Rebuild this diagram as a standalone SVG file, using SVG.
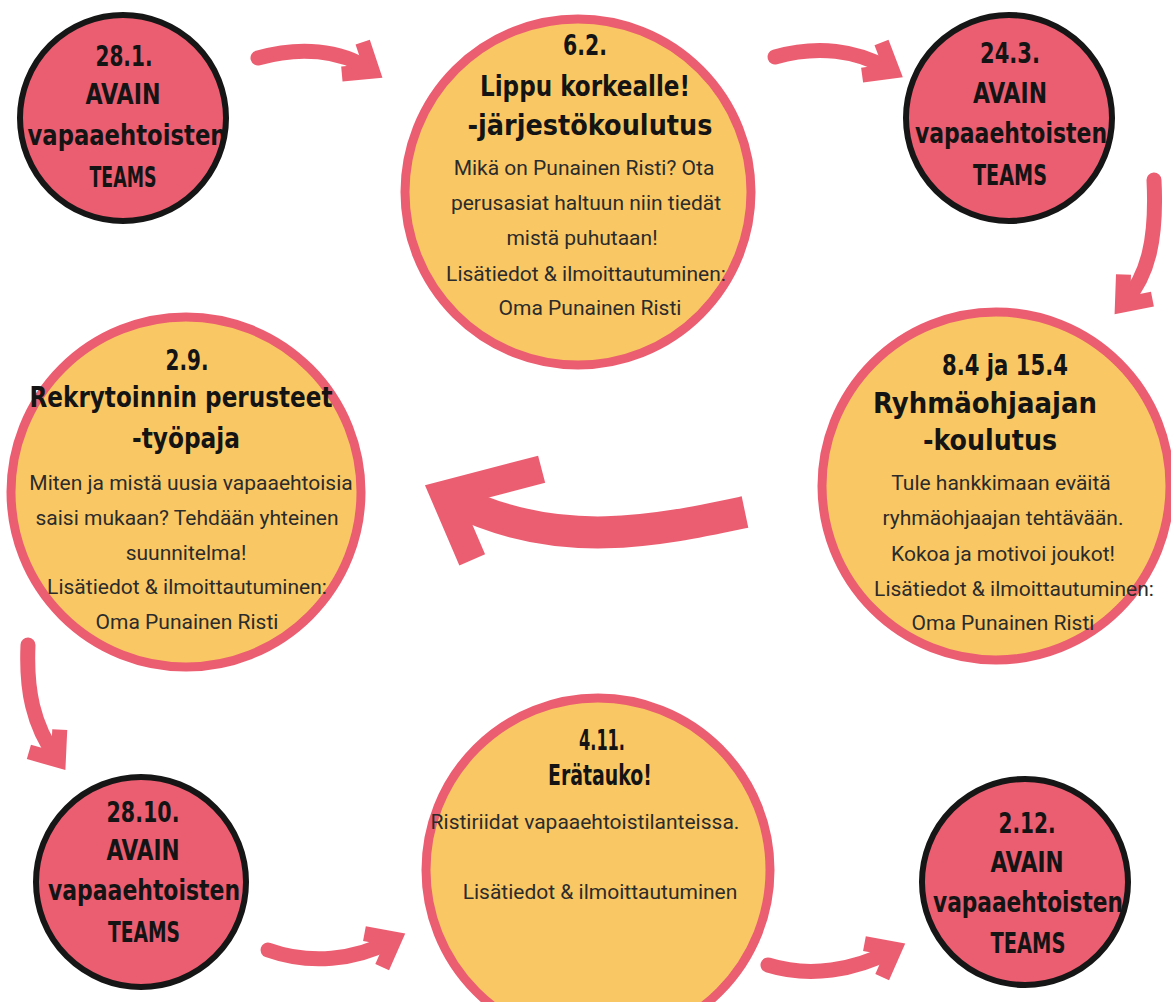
<svg xmlns="http://www.w3.org/2000/svg" width="1171" height="1002" viewBox="0 0 1171 1002">
<style>
.pink{fill:#EB5E71;stroke:#161616;stroke-width:6}
.yel{fill:#F9C864;stroke:#EB5E71;stroke-width:9}
.h{font-family:"DejaVu Sans Condensed","DejaVu Sans",sans-serif;font-weight:bold;font-size:28px;fill:#141414;text-anchor:middle}
.b{font-family:Roboto,"Liberation Sans",sans-serif;font-size:21px;fill:#2b2b2b;text-anchor:middle}
.sh{fill:none;stroke:#EB5E71;stroke-linecap:round}
.big{fill:none;stroke:#EB5E71;stroke-linecap:butt;stroke-width:32}
</style>
<defs>
<marker id="ah" markerUnits="userSpaceOnUse" markerWidth="10" markerHeight="10" refX="0" refY="0" orient="auto" overflow="visible">
<path d="M-20,-19 L4,0 L-20,19" fill="none" stroke="#EB5E71" stroke-width="15" stroke-linejoin="miter"/>
</marker>
<marker id="ahb" markerUnits="userSpaceOnUse" markerWidth="10" markerHeight="10" refX="0" refY="0" orient="auto" overflow="visible">
<path d="M-42,-46 L12,0 L-64,66" fill="none" stroke="#EB5E71" stroke-width="28" stroke-linejoin="miter"/>
</marker>
</defs>
<rect width="1171" height="1002" fill="#ffffff"/>
<g id="connectors">
<path class="sh" stroke-width="15" d="M258,58 C300,46 340,50 369,69" marker-end="url(#ah)"/>
<path class="sh" stroke-width="15" d="M775,57 C817,45 857,50 889,69" marker-end="url(#ah)"/>
<path class="sh" stroke-width="15" d="M1154,180 C1157,240 1148,275 1125,302" marker-end="url(#ah)"/>
<path class="big" d="M745,512 C660,530 560,552 455,500" marker-end="url(#ahb)"/>
<path class="sh" stroke-width="15" d="M28,645 C26,690 33,725 56,757" marker-end="url(#ah)"/>
<path class="sh" stroke-width="15" d="M268,950 C310,965 355,960 391,941" marker-end="url(#ah)"/>
<path class="sh" stroke-width="15" d="M768,965 C810,978 855,970 891,951" marker-end="url(#ah)"/>
</g>
<g id="n1">
<circle class="pink" cx="123" cy="118" r="103"/>
<text class="h" x="124" y="66" textLength="57" lengthAdjust="spacingAndGlyphs">28.1.</text>
<text class="h" x="123" y="104" textLength="75" lengthAdjust="spacingAndGlyphs">AVAIN</text>
<text class="h" x="127" y="145" textLength="199" lengthAdjust="spacingAndGlyphs">vapaaehtoisten</text>
<text class="h" x="123" y="187" textLength="67" lengthAdjust="spacingAndGlyphs">TEAMS</text>
</g>
<g id="n2">
<circle class="yel" cx="578" cy="192" r="173"/>
<text class="h" x="585" y="55" textLength="44" lengthAdjust="spacingAndGlyphs">6.2.</text>
<text class="h" x="585" y="96" textLength="210" lengthAdjust="spacingAndGlyphs">Lippu korkealle!</text>
<text class="h" x="590" y="135" textLength="245" lengthAdjust="spacingAndGlyphs">-järjestökoulutus</text>
<text class="b" x="584" y="175">Mikä on Punainen Risti? Ota</text>
<text class="b" x="586" y="210">perusasiat haltuun niin tiedät</text>
<text class="b" x="582" y="245">mistä puhutaan!</text>
<text class="b" x="586" y="281">Lisätiedot &amp; ilmoittautuminen:</text>
<text class="b" x="590" y="315">Oma Punainen Risti</text>
</g>
<g id="n3">
<circle class="pink" cx="1009" cy="118" r="103"/>
<text class="h" x="1010" y="63" textLength="60" lengthAdjust="spacingAndGlyphs">24.3.</text>
<text class="h" x="1010" y="103" textLength="74" lengthAdjust="spacingAndGlyphs">AVAIN</text>
<text class="h" x="1011" y="143" textLength="192" lengthAdjust="spacingAndGlyphs">vapaaehtoisten</text>
<text class="h" x="1010" y="185" textLength="74" lengthAdjust="spacingAndGlyphs">TEAMS</text>
</g>
<g id="n4">
<circle class="yel" cx="186" cy="492" r="175"/>
<text class="h" x="187" y="370" textLength="43" lengthAdjust="spacingAndGlyphs">2.9.</text>
<text class="h" x="181" y="407" textLength="303" lengthAdjust="spacingAndGlyphs">Rekrytoinnin perusteet</text>
<text class="h" x="186" y="448" textLength="108" lengthAdjust="spacingAndGlyphs">-työpaja</text>
<text class="b" x="191" y="490">Miten ja mistä uusia vapaaehtoisia</text>
<text class="b" x="187" y="525">saisi mukaan? Tehdään yhteinen</text>
<text class="b" x="186" y="560">suunnitelma!</text>
<text class="b" x="187" y="594">Lisätiedot &amp; ilmoittautuminen:</text>
<text class="b" x="187" y="629">Oma Punainen Risti</text>
</g>
<g id="n5">
<circle class="yel" cx="996" cy="486" r="174"/>
<text class="h" x="1005" y="375" textLength="126" lengthAdjust="spacingAndGlyphs">8.4 ja 15.4</text>
<text class="h" x="985" y="413" textLength="224" lengthAdjust="spacingAndGlyphs">Ryhmäohjaajan</text>
<text class="h" x="990" y="450" textLength="134" lengthAdjust="spacingAndGlyphs">-koulutus</text>
<text class="b" x="1001" y="490">Tule hankkimaan eväitä</text>
<text class="b" x="1003" y="525">ryhmäohjaajan tehtävään.</text>
<text class="b" x="1003" y="561">Kokoa ja motivoi joukot!</text>
<text class="b" x="1014" y="596">Lisätiedot &amp; ilmoittautuminen:</text>
<text class="b" x="1003" y="630">Oma Punainen Risti</text>
</g>
<g id="n6">
<circle class="pink" cx="141" cy="882" r="105"/>
<text class="h" x="143" y="822" textLength="73" lengthAdjust="spacingAndGlyphs">28.10.</text>
<text class="h" x="143" y="860" textLength="73" lengthAdjust="spacingAndGlyphs">AVAIN</text>
<text class="h" x="144" y="900" textLength="192" lengthAdjust="spacingAndGlyphs">vapaaehtoisten</text>
<text class="h" x="144" y="942" textLength="72" lengthAdjust="spacingAndGlyphs">TEAMS</text>
</g>
<g id="n7">
<circle class="yel" cx="598" cy="870" r="172"/>
<text class="h" x="602" y="750" textLength="46" lengthAdjust="spacingAndGlyphs">4.11.</text>
<text class="h" x="600" y="785" textLength="104" lengthAdjust="spacingAndGlyphs">Erätauko!</text>
<text class="b" x="585" y="829">Ristiriidat vapaaehtoistilanteissa.</text>
<text class="b" x="600" y="899">Lisätiedot &amp; ilmoittautuminen</text>
</g>
<g id="n8">
<circle class="pink" cx="1025" cy="882" r="103"/>
<text class="h" x="1027" y="833" textLength="57" lengthAdjust="spacingAndGlyphs">2.12.</text>
<text class="h" x="1027" y="872" textLength="73" lengthAdjust="spacingAndGlyphs">AVAIN</text>
<text class="h" x="1028" y="912" textLength="190" lengthAdjust="spacingAndGlyphs">vapaaehtoisten</text>
<text class="h" x="1028" y="953" textLength="75" lengthAdjust="spacingAndGlyphs">TEAMS</text>
</g>
</svg>
